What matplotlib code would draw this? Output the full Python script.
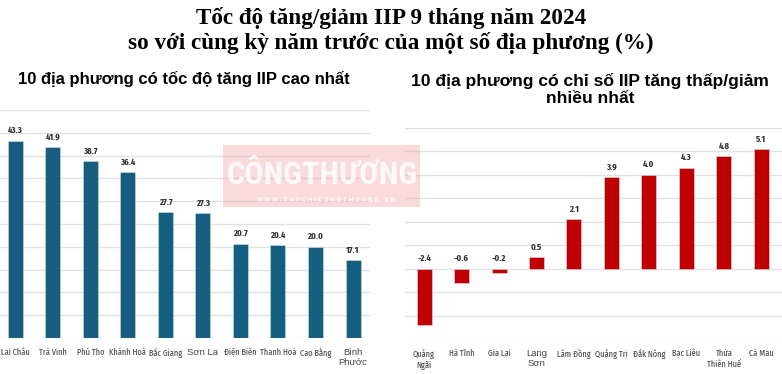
import matplotlib.pyplot as plt
import numpy as np

# left chart: highest IIP growth
top_names = ['Lai Châu', 'Trà Vinh', 'Phú Thọ', 'Khánh Hoà', 'Bắc Giang',
             'Sơn La', 'Điện Biên', 'Thanh Hoá', 'Cao Bằng', 'Bình\nPhước']
top_vals = [43.3, 41.9, 38.7, 36.4, 27.7, 27.3, 20.7, 20.4, 20.0, 17.1]

# right chart: lowest growth / decline
low_names = ['Quảng\nNgãi', 'Hà Tĩnh', 'Gia Lai', 'Lạng\nSơn', 'Lâm Đồng',
             'Quảng Trị', 'Đắk Nông', 'Bạc Liêu', 'Thừa\nThiên Huế', 'Cà Mau']
low_vals = [-2.4, -0.6, -0.2, 0.5, 2.1, 3.9, 4.0, 4.3, 4.8, 5.1]

# these few labels use a wider plain font in the original
wide_labels = ['Sơn La', 'Bình\nPhước', 'Lạng\nSơn']

COND = ['Fira Sans Extra Condensed', 'Roboto Condensed', 'Liberation Sans', 'DejaVu Sans']
plt.rcParams['font.family'] = COND

fig = plt.figure(figsize=(7.82, 3.74), dpi=100)

def draw(ax, names, vals, color, ylim, step):
    x = np.arange(len(vals))
    ax.set_axisbelow(True)
    ax.bar(x, vals, width=0.4, color=color, edgecolor='#cfdfe6', linewidth=0.4, zorder=2)
    for xi, v in zip(x, vals):
        y = v if v > 0 else 0
        ax.annotate(f'{v:.1f}', (xi, y), xytext=(0, 4), textcoords='offset points',
                    ha='center', va='bottom', fontsize=6.8, fontweight='bold', color='#333333')
    ax.set_ylim(*ylim)
    ax.set_yticks(np.arange(ylim[0], ylim[1] + 0.01, step))
    ax.yaxis.grid(True, color='#e2e2e2', linewidth=1)
    ax.set_yticklabels([])
    ax.tick_params(axis='y', length=0)
    ax.set_xticks(x)
    ax.set_xticklabels(names, fontsize=6.5, color='#444444', linespacing=1.25, va='top')
    ax.tick_params(axis='x', length=0, pad=7)
    for lab in ax.get_xticklabels():
        if lab.get_text() in wide_labels:
            lab.set_family(['Liberation Sans', 'DejaVu Sans'])
            lab.set_fontsize(6.8)
    for s in ax.spines.values():
        s.set_visible(False)

ax1 = fig.add_axes([0.0, 0.0963, 0.473, 0.6097])
draw(ax1, top_names, top_vals, '#165e80', (0, 50), 5)
ax1.set_xlim(-0.41, 9.45)

ax2 = fig.add_axes([0.518, 0.0936, 0.482, 0.5642])
draw(ax2, low_names, low_vals, '#c00000', (-3, 6), 1)
ax2.set_xlim(-0.507, 9.55)

fig.text(0.5, 0.953, 'Tốc độ tăng/giảm IIP 9 tháng năm 2024', ha='center', va='center',
         fontsize=16.7, fontweight='bold', family='Liberation Serif')
fig.text(0.5, 0.885, 'so với cùng kỳ năm trước của một số địa phương (%)', ha='center',
         va='center', fontsize=16.7, fontweight='bold', family='Liberation Serif')
fig.text(0.235, 0.789, '10 địa phương có tốc độ tăng IIP cao nhất', ha='center', va='center',
         fontsize=12, fontweight='bold', family='Liberation Sans')
fig.text(0.755, 0.76, '10 địa phương có chỉ số IIP tăng thấp/giảm\nnhiều nhất', ha='center',
         va='center', fontsize=12.6, fontweight='bold', family='Liberation Sans', linespacing=1.18)

# watermark
fig.patches.append(plt.Rectangle((223 / 782, 1 - 207 / 374), 197 / 782, 62 / 374,
                                 transform=fig.transFigure, color='#ee9a9a', alpha=0.35,
                                 zorder=5, linewidth=0))
fig.text(322 / 782, 1 - 175 / 374, 'CÔNGTHƯƠNG', ha='center', va='center', fontsize=23,
         fontweight='bold', family=['Roboto Condensed', 'DejaVu Sans'],
         color='white', alpha=0.85, zorder=6)
fig.text(326 / 782, 1 - 199 / 374, 'W W W . T A P C H I C O N G T H U O N G . V N', ha='center',
         va='center', fontsize=5.5, fontweight='bold', family=['Roboto Condensed', 'DejaVu Sans'],
         color='white', alpha=0.8, zorder=6)

fig.savefig('out.png', dpi=100)
